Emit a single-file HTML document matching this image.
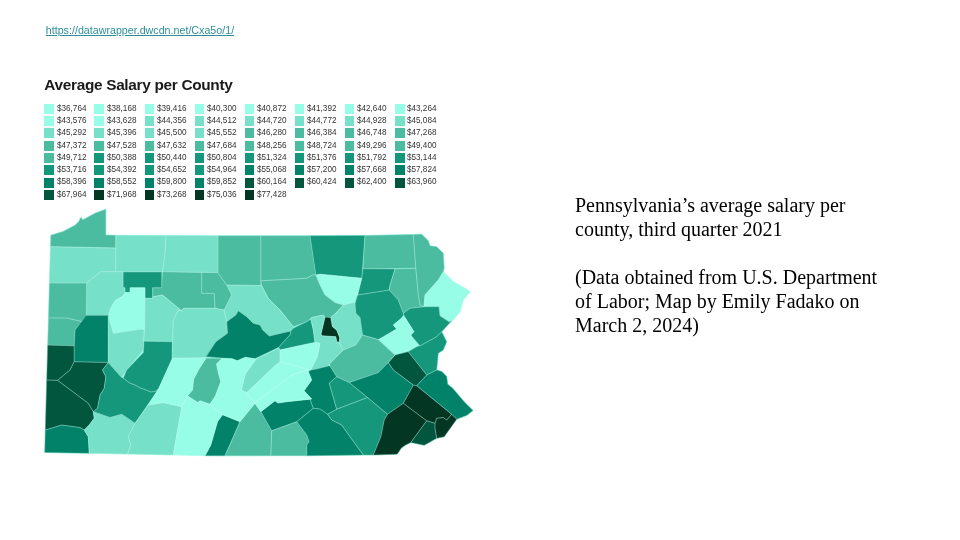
<!DOCTYPE html>
<html><head><meta charset="utf-8">
<style>
html,body{margin:0;padding:0;background:#fff;}
body{width:960px;height:540px;position:relative;overflow:hidden;font-family:"Liberation Sans",sans-serif;}
#link{position:absolute;left:45.8px;top:24.1px;font-size:10.7px;color:#2e8e98;text-decoration:underline;white-space:nowrap;line-height:12px;}
#title{position:absolute;left:44.3px;top:75.9px;font-size:15.4px;font-weight:bold;color:#1a1a1a;white-space:nowrap;line-height:18px;letter-spacing:-0.32px;}
#legend{position:absolute;left:0;top:0;}
.li{position:absolute;height:10px;font-size:9px;line-height:10px;color:#333;white-space:nowrap;}
.li i{position:absolute;left:0;top:0;width:9.5px;height:10px;display:block;}
.li span{position:absolute;left:12.4px;top:-1.2px;font-size:9.4px;transform:scaleX(0.87);transform-origin:0 0;}
#desc{position:absolute;left:575px;top:193px;width:330px;font-family:"Liberation Serif",serif;font-size:20px;line-height:24px;color:#000;}
#map{position:absolute;left:0;top:0;}
</style></head><body>
<div id="link">https://datawrapper.dwcdn.net/Cxa5o/1/</div>
<div id="title">Average Salary per County</div>
<div id="legend"><div class="li" style="left:44.3px;top:103.9px"><i style="background:#97fde7"></i><span>$36,764</span></div><div class="li" style="left:94.4px;top:103.9px"><i style="background:#97fde7"></i><span>$38,168</span></div><div class="li" style="left:144.5px;top:103.9px"><i style="background:#97fde7"></i><span>$39,416</span></div><div class="li" style="left:194.6px;top:103.9px"><i style="background:#97fde7"></i><span>$40,300</span></div><div class="li" style="left:244.7px;top:103.9px"><i style="background:#97fde7"></i><span>$40,872</span></div><div class="li" style="left:294.8px;top:103.9px"><i style="background:#97fde7"></i><span>$41,392</span></div><div class="li" style="left:344.9px;top:103.9px"><i style="background:#97fde7"></i><span>$42,640</span></div><div class="li" style="left:395.0px;top:103.9px"><i style="background:#97fde7"></i><span>$43,264</span></div><div class="li" style="left:44.3px;top:116.2px"><i style="background:#97fde7"></i><span>$43,576</span></div><div class="li" style="left:94.4px;top:116.2px"><i style="background:#97fde7"></i><span>$43,628</span></div><div class="li" style="left:144.5px;top:116.2px"><i style="background:#77e0c8"></i><span>$44,356</span></div><div class="li" style="left:194.6px;top:116.2px"><i style="background:#77e0c8"></i><span>$44,512</span></div><div class="li" style="left:244.7px;top:116.2px"><i style="background:#77e0c8"></i><span>$44,720</span></div><div class="li" style="left:294.8px;top:116.2px"><i style="background:#77e0c8"></i><span>$44,772</span></div><div class="li" style="left:344.9px;top:116.2px"><i style="background:#77e0c8"></i><span>$44,928</span></div><div class="li" style="left:395.0px;top:116.2px"><i style="background:#77e0c8"></i><span>$45,084</span></div><div class="li" style="left:44.3px;top:128.4px"><i style="background:#77e0c8"></i><span>$45,292</span></div><div class="li" style="left:94.4px;top:128.4px"><i style="background:#77e0c8"></i><span>$45,396</span></div><div class="li" style="left:144.5px;top:128.4px"><i style="background:#77e0c8"></i><span>$45,500</span></div><div class="li" style="left:194.6px;top:128.4px"><i style="background:#77e0c8"></i><span>$45,552</span></div><div class="li" style="left:244.7px;top:128.4px"><i style="background:#4bbca0"></i><span>$46,280</span></div><div class="li" style="left:294.8px;top:128.4px"><i style="background:#4bbca0"></i><span>$46,384</span></div><div class="li" style="left:344.9px;top:128.4px"><i style="background:#4bbca0"></i><span>$46,748</span></div><div class="li" style="left:395.0px;top:128.4px"><i style="background:#4bbca0"></i><span>$47,268</span></div><div class="li" style="left:44.3px;top:140.7px"><i style="background:#4bbca0"></i><span>$47,372</span></div><div class="li" style="left:94.4px;top:140.7px"><i style="background:#4bbca0"></i><span>$47,528</span></div><div class="li" style="left:144.5px;top:140.7px"><i style="background:#4bbca0"></i><span>$47,632</span></div><div class="li" style="left:194.6px;top:140.7px"><i style="background:#4bbca0"></i><span>$47,684</span></div><div class="li" style="left:244.7px;top:140.7px"><i style="background:#4bbca0"></i><span>$48,256</span></div><div class="li" style="left:294.8px;top:140.7px"><i style="background:#4bbca0"></i><span>$48,724</span></div><div class="li" style="left:344.9px;top:140.7px"><i style="background:#4bbca0"></i><span>$49,296</span></div><div class="li" style="left:395.0px;top:140.7px"><i style="background:#4bbca0"></i><span>$49,400</span></div><div class="li" style="left:44.3px;top:153.0px"><i style="background:#4bbca0"></i><span>$49,712</span></div><div class="li" style="left:94.4px;top:153.0px"><i style="background:#15977b"></i><span>$50,388</span></div><div class="li" style="left:144.5px;top:153.0px"><i style="background:#15977b"></i><span>$50,440</span></div><div class="li" style="left:194.6px;top:153.0px"><i style="background:#15977b"></i><span>$50,804</span></div><div class="li" style="left:244.7px;top:153.0px"><i style="background:#15977b"></i><span>$51,324</span></div><div class="li" style="left:294.8px;top:153.0px"><i style="background:#15977b"></i><span>$51,376</span></div><div class="li" style="left:344.9px;top:153.0px"><i style="background:#15977b"></i><span>$51,792</span></div><div class="li" style="left:395.0px;top:153.0px"><i style="background:#15977b"></i><span>$53,144</span></div><div class="li" style="left:44.3px;top:165.2px"><i style="background:#15977b"></i><span>$53,716</span></div><div class="li" style="left:94.4px;top:165.2px"><i style="background:#15977b"></i><span>$54,392</span></div><div class="li" style="left:144.5px;top:165.2px"><i style="background:#15977b"></i><span>$54,652</span></div><div class="li" style="left:194.6px;top:165.2px"><i style="background:#15977b"></i><span>$54,964</span></div><div class="li" style="left:244.7px;top:165.2px"><i style="background:#03826a"></i><span>$55,068</span></div><div class="li" style="left:294.8px;top:165.2px"><i style="background:#03826a"></i><span>$57,200</span></div><div class="li" style="left:344.9px;top:165.2px"><i style="background:#03826a"></i><span>$57,668</span></div><div class="li" style="left:395.0px;top:165.2px"><i style="background:#03826a"></i><span>$57,824</span></div><div class="li" style="left:44.3px;top:177.5px"><i style="background:#03826a"></i><span>$58,396</span></div><div class="li" style="left:94.4px;top:177.5px"><i style="background:#03826a"></i><span>$58,552</span></div><div class="li" style="left:144.5px;top:177.5px"><i style="background:#03826a"></i><span>$59,800</span></div><div class="li" style="left:194.6px;top:177.5px"><i style="background:#03826a"></i><span>$59,852</span></div><div class="li" style="left:244.7px;top:177.5px"><i style="background:#02563e"></i><span>$60,164</span></div><div class="li" style="left:294.8px;top:177.5px"><i style="background:#02563e"></i><span>$60,424</span></div><div class="li" style="left:344.9px;top:177.5px"><i style="background:#02563e"></i><span>$62,400</span></div><div class="li" style="left:395.0px;top:177.5px"><i style="background:#02563e"></i><span>$63,960</span></div><div class="li" style="left:44.3px;top:189.8px"><i style="background:#02563e"></i><span>$67,964</span></div><div class="li" style="left:94.4px;top:189.8px"><i style="background:#033724"></i><span>$71,968</span></div><div class="li" style="left:144.5px;top:189.8px"><i style="background:#033724"></i><span>$73,268</span></div><div class="li" style="left:194.6px;top:189.8px"><i style="background:#033724"></i><span>$75,036</span></div><div class="li" style="left:244.7px;top:189.8px"><i style="background:#033724"></i><span>$77,428</span></div></div>
<div id="desc">Pennsylvania’s average salary per<br>county, third quarter 2021<br><br>(Data obtained from U.S. Department<br>of Labor; Map by Emily Fadako on<br>March 2, 2024)</div>
<svg id="map" width="960" height="540" viewBox="0 0 960 540">
<polygon points="50.8,235.3 63.0,231.5 75.3,225.1 79.0,221.3 80.3,218.0 81.3,217.6 82.3,219.6 83.5,219.4 95.4,213.1 105.8,209.2 105.8,235.0 115.8,235.3 218.0,235.8 310.0,235.8 365.0,235.5 413.3,234.5 421.7,234.2 428.3,240.8 430.0,245.8 436.7,246.7 443.3,253.3 444.2,268.3 443.3,271.7 453.3,281.7 465.0,288.3 470.0,291.7 463.3,300.0 460.0,311.7 453.3,320.0 451.7,320.8 441.7,331.7 446.7,341.7 443.3,350.0 438.3,353.3 436.7,370.0 441.8,371.6 446.7,376.4 447.7,384.2 452.5,388.0 458.4,394.9 464.2,401.7 473.0,410.5 467.0,415.3 456.7,419.2 444.2,436.7 436.7,438.3 424.2,445.3 410.8,442.5 405.7,444.9 401.4,447.9 397.7,453.4 396.7,454.2 373.3,455.0 225.0,455.8 89.2,453.3 44.7,452.5" fill="#97fde7" stroke="#97fde7" stroke-width="0.6"/>
<polygon points="50.8,235.3 63.0,231.5 75.3,225.1 79.0,221.3 80.3,218.0 81.3,217.6 82.3,219.6 83.5,219.4 95.4,213.1 105.8,209.2 105.8,235.0 115.8,235.3 115.8,248.0 50.5,246.7" fill="#4bbca0" stroke="#4bbca0" stroke-width="0.25"/>
<polygon points="50.5,246.7 115.8,248.0 115.8,271.7 100.8,271.7 86.7,283.0 49.4,283.0" fill="#77e0c8" stroke="#77e0c8" stroke-width="0.25"/>
<polygon points="115.8,235.3 166.0,235.6 165.0,253.3 162.5,271.7 115.8,271.7" fill="#77e0c8" stroke="#77e0c8" stroke-width="0.25"/>
<polygon points="166.0,235.6 218.0,235.8 218.0,272.5 162.5,271.7 165.0,253.3" fill="#77e0c8" stroke="#77e0c8" stroke-width="0.25"/>
<polygon points="218.0,235.8 260.8,235.8 260.8,285.5 226.7,285.0 218.0,273.3" fill="#4bbca0" stroke="#4bbca0" stroke-width="0.25"/>
<polygon points="260.8,235.8 310.0,235.8 315.8,275.0 313.3,274.7 306.7,278.3 260.8,280.8" fill="#4bbca0" stroke="#4bbca0" stroke-width="0.25"/>
<polygon points="310.0,235.8 365.0,235.5 361.7,278.3 320.0,274.2 315.8,275.0" fill="#15977b" stroke="#15977b" stroke-width="0.25"/>
<polygon points="365.0,235.5 413.3,234.5 415.8,268.3 363.0,268.7" fill="#4bbca0" stroke="#4bbca0" stroke-width="0.25"/>
<polygon points="413.3,234.5 421.7,234.2 428.3,240.8 430.0,245.8 436.7,246.7 443.3,253.3 444.2,268.3 443.3,271.7 438.3,280.0 425.0,295.0 424.0,306.7 420.0,305.0 418.3,295.0 415.8,268.3" fill="#4bbca0" stroke="#4bbca0" stroke-width="0.25"/>
<polygon points="443.3,271.7 453.3,281.7 465.0,288.3 470.0,291.7 463.3,300.0 460.0,311.7 453.3,320.0 449.0,321.7 440.0,315.8 439.0,306.7 424.0,306.7 425.0,295.0 438.3,280.0" fill="#97fde7" stroke="#97fde7" stroke-width="0.25"/>
<polygon points="363.0,268.7 395.0,269.0 390.0,285.0 389.2,290.0 357.5,295.0 361.7,278.3" fill="#15977b" stroke="#15977b" stroke-width="0.25"/>
<polygon points="395.0,269.0 415.8,268.3 418.3,295.0 420.0,305.0 424.0,306.7 410.0,308.3 403.3,313.3 398.3,300.0 389.2,290.0 390.0,285.0" fill="#4bbca0" stroke="#4bbca0" stroke-width="0.25"/>
<polygon points="315.8,275.0 320.0,274.2 361.7,278.3 357.5,295.0 355.0,303.3 353.3,302.5 343.3,305.0 335.0,302.5 325.0,295.0 320.0,285.0" fill="#97fde7" stroke="#97fde7" stroke-width="0.25"/>
<polygon points="260.8,280.8 306.7,278.3 313.3,274.7 315.8,275.0 320.0,285.0 325.0,295.0 335.0,302.5 343.3,305.0 335.0,314.0 330.8,317.5 325.0,317.0 323.3,315.0 311.7,317.5 306.7,321.7 293.3,326.7 280.0,310.0 268.3,298.3 261.7,285.8" fill="#4bbca0" stroke="#4bbca0" stroke-width="0.25"/>
<polygon points="226.7,285.0 260.8,285.5 261.7,285.8 268.3,298.3 280.0,310.0 293.3,326.7 293.3,328.3 290.7,331.0 269.3,336.0 262.7,330.0 260.0,325.0 253.3,323.3 246.7,316.7 238.3,310.8 235.8,315.0 226.7,321.7 224.0,310.0 231.7,295.0" fill="#77e0c8" stroke="#77e0c8" stroke-width="0.25"/>
<polygon points="201.7,272.5 218.0,272.5 226.7,285.0 231.7,295.0 224.0,310.0 215.0,308.3 214.2,293.3 201.7,293.3" fill="#4bbca0" stroke="#4bbca0" stroke-width="0.25"/>
<polygon points="162.5,271.7 201.7,272.5 201.7,293.3 214.2,293.3 215.0,308.3 183.3,308.3 181.7,310.8 162.5,295.0 153.0,296.7 152.5,287.8 161.7,287.8" fill="#4bbca0" stroke="#4bbca0" stroke-width="0.25"/>
<polygon points="123.0,272.0 161.7,272.0 161.7,287.8 152.5,287.8 152.5,298.3 145.0,298.3 145.0,287.8 130.0,287.8 130.0,292.5 125.0,292.5 125.0,287.8 123.0,287.8" fill="#15977b" stroke="#15977b" stroke-width="0.25"/>
<polygon points="86.7,283.0 100.8,271.7 123.0,271.7 123.0,287.8 125.0,287.8 125.0,292.5 123.3,295.8 115.0,300.8 110.8,308.3 108.7,315.3 86.3,315.3" fill="#77e0c8" stroke="#77e0c8" stroke-width="0.25"/>
<polygon points="49.4,283.0 86.7,283.0 86.3,315.3 85.8,315.8 82.0,321.0 80.8,321.3 66.7,318.0 48.5,318.0" fill="#4bbca0" stroke="#4bbca0" stroke-width="0.25"/>
<polygon points="48.5,318.0 66.7,318.0 80.8,321.3 82.0,321.0 75.0,330.0 74.2,345.8 47.7,345.0" fill="#4bbca0" stroke="#4bbca0" stroke-width="0.25"/>
<polygon points="85.8,315.3 108.3,315.3 108.3,362.5 74.2,361.7 74.2,345.8 75.0,330.0" fill="#03826a" stroke="#03826a" stroke-width="0.25"/>
<polygon points="125.0,292.5 130.0,292.5 130.0,287.8 145.0,287.8 145.0,298.3 144.7,328.3 141.7,329.0 113.3,333.3 109.0,313.3 110.8,308.3 115.0,300.8 123.3,295.8" fill="#97fde7" stroke="#97fde7" stroke-width="0.25"/>
<polygon points="145.0,298.3 152.5,298.3 153.0,296.7 162.5,295.0 181.7,310.8 178.3,310.0 173.3,320.0 172.5,341.7 143.8,340.8 144.7,328.3" fill="#77e0c8" stroke="#77e0c8" stroke-width="0.25"/>
<polygon points="108.3,316.0 113.3,333.3 141.7,329.0 144.0,330.0 143.3,350.0 126.7,370.0 121.7,377.5 116.7,372.0 108.3,362.5" fill="#77e0c8" stroke="#77e0c8" stroke-width="0.25"/>
<polygon points="144.0,341.2 172.2,341.7 172.2,358.8 158.5,389.0 155.0,391.5 150.8,392.0 145.0,389.5 140.4,388.0 135.0,385.0 130.0,383.2 123.3,378.3 126.7,370.0 143.5,352.5" fill="#15977b" stroke="#15977b" stroke-width="0.25"/>
<polygon points="178.3,310.0 181.7,310.8 183.3,308.3 215.0,308.3 224.0,310.0 226.7,321.7 227.5,333.3 215.8,341.7 205.8,357.5 172.2,358.2 172.5,341.7 173.3,320.0" fill="#77e0c8" stroke="#77e0c8" stroke-width="0.25"/>
<polygon points="238.3,310.8 246.7,316.7 253.3,323.3 260.0,325.0 262.7,330.0 269.3,336.0 290.7,331.0 290.7,334.0 278.7,347.3 254.7,358.7 245.3,357.3 237.3,360.7 232.0,358.7 205.8,356.7 215.8,341.7 227.5,333.3 226.7,321.7 235.8,315.0" fill="#03826a" stroke="#03826a" stroke-width="0.25"/>
<polygon points="293.3,328.3 306.7,321.7 310.8,319.2 313.3,330.0 315.0,342.5 304.0,344.7 280.0,350.0 278.7,347.3 290.7,334.0 290.7,331.0" fill="#15977b" stroke="#15977b" stroke-width="0.25"/>
<polygon points="325.0,317.0 330.8,317.5 332.5,326.7 336.7,330.0 339.7,337.5 339.2,342.5 336.7,341.7 335.8,336.7 321.7,335.8 321.0,334.0" fill="#033724" stroke="#033724" stroke-width="0.25"/>
<polygon points="343.3,305.0 353.3,302.5 355.0,303.3 355.8,313.3 360.0,317.5 362.5,335.0 355.8,345.0 343.3,350.0 340.8,346.7 339.2,342.5 339.7,337.5 336.7,330.0 332.5,326.7 330.8,317.5 335.0,314.0" fill="#77e0c8" stroke="#77e0c8" stroke-width="0.25"/>
<polygon points="357.5,295.0 389.2,290.0 398.3,300.0 403.3,313.3 403.3,315.8 401.7,318.0 393.3,325.0 396.7,329.0 378.3,339.5 368.3,336.7 362.5,335.0 360.0,317.5 355.8,313.3 355.0,303.3" fill="#15977b" stroke="#15977b" stroke-width="0.25"/>
<polygon points="410.0,308.3 424.0,306.7 439.0,306.7 440.0,315.8 449.0,321.7 451.7,320.8 441.7,331.7 436.7,336.7 420.0,345.8 410.8,335.0 414.0,331.7 405.0,317.5 403.3,313.3" fill="#15977b" stroke="#15977b" stroke-width="0.25"/>
<polygon points="401.7,318.0 403.3,315.8 405.0,317.5 414.0,331.7 410.8,335.0 416.7,346.7 395.0,355.0 378.3,340.0 396.7,329.0 393.3,325.0" fill="#97fde7" stroke="#97fde7" stroke-width="0.25"/>
<polygon points="420.0,345.8 436.7,336.7 441.7,331.7 446.7,341.7 443.3,350.0 438.3,353.3 436.7,370.0 426.7,375.0 408.3,351.7 416.7,346.7" fill="#15977b" stroke="#15977b" stroke-width="0.25"/>
<polygon points="395.0,355.0 408.3,351.7 426.7,375.0 416.7,385.8 413.3,385.0 393.3,370.0 388.3,362.5" fill="#02563e" stroke="#02563e" stroke-width="0.25"/>
<polygon points="343.3,350.0 355.8,345.0 362.5,335.0 368.3,336.7 378.3,339.5 395.0,355.0 388.3,362.5 378.3,372.5 349.2,382.5 336.7,376.7 330.0,366.0 330.0,363.3" fill="#4bbca0" stroke="#4bbca0" stroke-width="0.25"/>
<polygon points="310.8,319.2 311.7,317.5 323.3,315.0 325.0,317.0 321.0,334.0 321.7,335.8 335.8,336.7 336.7,341.7 339.2,342.5 340.8,346.7 343.3,350.0 330.0,363.3 328.0,366.0 317.3,368.7 310.7,370.0 317.3,356.7 320.0,343.3 315.0,342.5 313.3,330.0" fill="#77e0c8" stroke="#77e0c8" stroke-width="0.25"/>
<polygon points="278.7,348.0 280.0,350.0 280.0,362.0 274.7,366.0 246.7,392.7 241.3,390.0 245.3,374.0 256.0,359.3" fill="#77e0c8" stroke="#77e0c8" stroke-width="0.25"/>
<polygon points="206.0,358.2 222.0,358.5 216.5,364.0 218.5,373.3 220.8,381.7 215.4,396.0 210.0,404.2 200.0,400.8 197.5,402.5 187.5,395.8 192.5,390.0 193.5,379.6 198.8,369.2" fill="#4bbca0" stroke="#4bbca0" stroke-width="0.25"/>
<polygon points="47.7,345.0 74.2,345.8 74.2,361.7 70.0,370.0 57.5,380.3 46.7,380.0" fill="#02563e" stroke="#02563e" stroke-width="0.25"/>
<polygon points="74.2,361.7 108.3,362.5 102.5,370.0 105.8,376.7 104.2,388.3 100.0,395.0 97.5,408.3 93.3,411.7 88.3,403.3 57.5,380.3 70.0,370.0" fill="#02563e" stroke="#02563e" stroke-width="0.25"/>
<polygon points="46.7,380.0 57.5,380.3 88.3,403.3 93.3,411.7 94.2,418.3 89.2,425.0 84.2,430.0 80.0,427.5 61.7,425.0 45.3,430.0" fill="#02563e" stroke="#02563e" stroke-width="0.25"/>
<polygon points="45.3,430.0 61.7,425.0 80.0,427.5 84.2,430.0 88.3,436.7 89.2,453.3 44.7,452.5" fill="#03826a" stroke="#03826a" stroke-width="0.25"/>
<polygon points="93.3,411.7 110.0,417.5 121.7,414.2 135.0,423.3 128.3,436.7 130.8,445.0 127.5,454.0 89.2,453.3 88.3,436.7 84.2,430.0 89.2,425.0 94.2,418.3" fill="#77e0c8" stroke="#77e0c8" stroke-width="0.25"/>
<polygon points="108.3,362.5 116.7,372.0 121.7,377.5 123.3,378.3 130.0,383.2 135.0,385.0 140.4,388.0 145.0,389.5 150.8,392.0 155.0,391.5 158.5,389.0 135.0,423.3 121.7,414.2 110.0,417.5 93.3,411.7 97.5,408.3 100.0,395.0 104.2,388.3 105.8,376.7 102.5,370.0" fill="#15977b" stroke="#15977b" stroke-width="0.25"/>
<polygon points="135.0,423.3 148.3,405.0 163.3,402.5 181.7,406.7 173.3,455.0 127.5,454.0 130.8,445.0 128.3,436.7" fill="#77e0c8" stroke="#77e0c8" stroke-width="0.25"/>
<polygon points="222.5,414.7 240.0,421.7 225.0,455.8 205.0,455.8 210.8,445.0 217.5,421.7" fill="#03826a" stroke="#03826a" stroke-width="0.25"/>
<polygon points="255.0,403.3 260.8,411.7 271.7,430.8 270.8,455.8 225.0,455.8 240.0,421.7" fill="#4bbca0" stroke="#4bbca0" stroke-width="0.25"/>
<polygon points="260.8,411.7 275.0,400.8 278.0,403.0 286.7,401.7 310.0,399.2 313.3,408.3 296.7,421.7 271.7,430.8" fill="#03826a" stroke="#03826a" stroke-width="0.25"/>
<polygon points="271.7,430.8 296.7,421.7 306.7,435.0 309.0,441.7 306.7,445.0 306.7,455.8 270.8,455.8" fill="#4bbca0" stroke="#4bbca0" stroke-width="0.25"/>
<polygon points="296.7,421.7 313.3,408.3 320.0,409.0 327.5,414.2 331.7,420.0 341.7,425.0 350.0,436.7 363.3,455.0 306.7,455.8 306.7,445.0 309.0,441.7 306.7,435.0" fill="#03826a" stroke="#03826a" stroke-width="0.25"/>
<polygon points="328.0,366.0 330.0,366.0 336.7,376.7 329.2,383.3 336.7,409.2 327.5,414.2 320.0,409.0 313.3,408.3 310.0,399.2 311.7,399.0 304.0,390.8 311.7,380.0 308.3,371.7 310.7,370.0 317.3,368.7" fill="#03826a" stroke="#03826a" stroke-width="0.25"/>
<polygon points="336.7,376.7 349.2,382.5 367.5,397.5 336.7,409.2 329.2,383.3" fill="#15977b" stroke="#15977b" stroke-width="0.25"/>
<polygon points="349.2,382.5 378.3,372.5 388.3,362.5 393.3,370.0 413.3,385.0 403.3,403.3 387.5,414.2 367.5,397.5" fill="#03826a" stroke="#03826a" stroke-width="0.25"/>
<polygon points="367.5,397.5 387.5,414.2 384.2,420.0 380.8,436.7 373.3,455.0 363.3,455.0 350.0,436.7 341.7,425.0 331.7,420.0 327.5,414.2 336.7,409.2" fill="#15977b" stroke="#15977b" stroke-width="0.25"/>
<polygon points="403.3,403.3 426.7,420.8 410.8,442.5 405.7,444.9 401.4,447.9 397.7,453.4 396.7,454.2 373.3,455.0 380.8,436.7 384.2,420.0 387.5,414.2" fill="#033724" stroke="#033724" stroke-width="0.25"/>
<polygon points="413.3,385.0 416.7,385.8 451.7,414.2 446.7,420.0 443.3,417.5 436.7,418.3 435.0,423.3 426.7,420.8 403.3,403.3" fill="#033724" stroke="#033724" stroke-width="0.25"/>
<polygon points="426.7,375.0 436.7,370.0 441.8,371.6 446.7,376.4 447.7,384.2 452.5,388.0 458.4,394.9 464.2,401.7 473.0,410.5 467.0,415.3 456.7,419.2 451.7,414.2 416.7,385.8" fill="#03826a" stroke="#03826a" stroke-width="0.25"/>
<polygon points="451.7,414.2 456.7,419.2 444.2,436.7 436.7,438.3 435.0,428.3 435.0,423.3 436.7,418.3 443.3,417.5 446.7,420.0" fill="#033724" stroke="#033724" stroke-width="0.25"/>
<polygon points="426.7,420.8 435.0,423.3 435.0,428.3 436.7,438.3 424.2,445.3 410.8,442.5" fill="#02563e" stroke="#02563e" stroke-width="0.25"/>
<polygon points="172.2,358.2 206.0,358.2 198.8,369.2 193.5,379.6 192.5,390.0 187.5,395.8 181.7,406.7 163.3,402.5 148.3,405.0 158.5,389.0 172.2,358.8" fill="#97fde7" stroke="#97fde7" stroke-width="0.25"/>
<polygon points="181.7,406.7 187.5,395.8 197.5,402.5 200.0,400.8 210.0,404.2 222.5,414.7 217.5,421.7 210.8,445.0 205.0,455.8 173.3,455.0" fill="#97fde7" stroke="#97fde7" stroke-width="0.25"/>
<polygon points="222.0,358.5 232.0,358.7 237.3,360.7 245.3,357.3 254.7,358.7 256.0,359.3 245.3,374.0 241.3,390.0 246.7,392.7 255.0,403.3 240.0,421.7 222.5,414.7 210.0,404.2 215.4,396.0 220.8,381.7 218.5,373.3 216.5,364.0" fill="#97fde7" stroke="#97fde7" stroke-width="0.25"/>
<polygon points="280.0,362.0 290.0,364.0 308.0,369.6 292.0,375.0 256.0,402.0 255.0,403.3 246.7,392.7 274.7,366.0" fill="#97fde7" stroke="#97fde7" stroke-width="0.25"/>
<polygon points="308.0,369.6 308.3,371.7 311.7,380.0 304.0,390.8 311.7,399.0 310.0,399.2 286.7,401.7 278.0,403.0 275.0,400.8 260.8,411.7 255.0,403.3 256.0,402.0 292.0,375.0" fill="#97fde7" stroke="#97fde7" stroke-width="0.25"/>
<polygon points="280.0,350.0 304.0,344.7 315.0,342.5 320.0,343.3 317.3,356.7 310.7,370.0 308.0,369.6 290.0,364.0 280.0,362.0" fill="#97fde7" stroke="#97fde7" stroke-width="0.25"/>
<polygon points="50.8,235.3 63.0,231.5 75.3,225.1 79.0,221.3 80.3,218.0 81.3,217.6 82.3,219.6 83.5,219.4 95.4,213.1 105.8,209.2 105.8,235.0 115.8,235.3 115.8,248.0 50.5,246.7" fill="none" stroke="#d8fff6" stroke-opacity="0.28" stroke-width="0.8" stroke-linejoin="round"/>
<polygon points="50.5,246.7 115.8,248.0 115.8,271.7 100.8,271.7 86.7,283.0 49.4,283.0" fill="none" stroke="#d8fff6" stroke-opacity="0.28" stroke-width="0.8" stroke-linejoin="round"/>
<polygon points="115.8,235.3 166.0,235.6 165.0,253.3 162.5,271.7 115.8,271.7" fill="none" stroke="#d8fff6" stroke-opacity="0.28" stroke-width="0.8" stroke-linejoin="round"/>
<polygon points="166.0,235.6 218.0,235.8 218.0,272.5 162.5,271.7 165.0,253.3" fill="none" stroke="#d8fff6" stroke-opacity="0.28" stroke-width="0.8" stroke-linejoin="round"/>
<polygon points="218.0,235.8 260.8,235.8 260.8,285.5 226.7,285.0 218.0,273.3" fill="none" stroke="#d8fff6" stroke-opacity="0.28" stroke-width="0.8" stroke-linejoin="round"/>
<polygon points="260.8,235.8 310.0,235.8 315.8,275.0 313.3,274.7 306.7,278.3 260.8,280.8" fill="none" stroke="#d8fff6" stroke-opacity="0.28" stroke-width="0.8" stroke-linejoin="round"/>
<polygon points="310.0,235.8 365.0,235.5 361.7,278.3 320.0,274.2 315.8,275.0" fill="none" stroke="#d8fff6" stroke-opacity="0.28" stroke-width="0.8" stroke-linejoin="round"/>
<polygon points="365.0,235.5 413.3,234.5 415.8,268.3 363.0,268.7" fill="none" stroke="#d8fff6" stroke-opacity="0.28" stroke-width="0.8" stroke-linejoin="round"/>
<polygon points="413.3,234.5 421.7,234.2 428.3,240.8 430.0,245.8 436.7,246.7 443.3,253.3 444.2,268.3 443.3,271.7 438.3,280.0 425.0,295.0 424.0,306.7 420.0,305.0 418.3,295.0 415.8,268.3" fill="none" stroke="#d8fff6" stroke-opacity="0.28" stroke-width="0.8" stroke-linejoin="round"/>
<polygon points="443.3,271.7 453.3,281.7 465.0,288.3 470.0,291.7 463.3,300.0 460.0,311.7 453.3,320.0 449.0,321.7 440.0,315.8 439.0,306.7 424.0,306.7 425.0,295.0 438.3,280.0" fill="none" stroke="#d8fff6" stroke-opacity="0.28" stroke-width="0.8" stroke-linejoin="round"/>
<polygon points="363.0,268.7 395.0,269.0 390.0,285.0 389.2,290.0 357.5,295.0 361.7,278.3" fill="none" stroke="#d8fff6" stroke-opacity="0.28" stroke-width="0.8" stroke-linejoin="round"/>
<polygon points="395.0,269.0 415.8,268.3 418.3,295.0 420.0,305.0 424.0,306.7 410.0,308.3 403.3,313.3 398.3,300.0 389.2,290.0 390.0,285.0" fill="none" stroke="#d8fff6" stroke-opacity="0.28" stroke-width="0.8" stroke-linejoin="round"/>
<polygon points="315.8,275.0 320.0,274.2 361.7,278.3 357.5,295.0 355.0,303.3 353.3,302.5 343.3,305.0 335.0,302.5 325.0,295.0 320.0,285.0" fill="none" stroke="#d8fff6" stroke-opacity="0.28" stroke-width="0.8" stroke-linejoin="round"/>
<polygon points="260.8,280.8 306.7,278.3 313.3,274.7 315.8,275.0 320.0,285.0 325.0,295.0 335.0,302.5 343.3,305.0 335.0,314.0 330.8,317.5 325.0,317.0 323.3,315.0 311.7,317.5 306.7,321.7 293.3,326.7 280.0,310.0 268.3,298.3 261.7,285.8" fill="none" stroke="#d8fff6" stroke-opacity="0.28" stroke-width="0.8" stroke-linejoin="round"/>
<polygon points="226.7,285.0 260.8,285.5 261.7,285.8 268.3,298.3 280.0,310.0 293.3,326.7 293.3,328.3 290.7,331.0 269.3,336.0 262.7,330.0 260.0,325.0 253.3,323.3 246.7,316.7 238.3,310.8 235.8,315.0 226.7,321.7 224.0,310.0 231.7,295.0" fill="none" stroke="#d8fff6" stroke-opacity="0.28" stroke-width="0.8" stroke-linejoin="round"/>
<polygon points="201.7,272.5 218.0,272.5 226.7,285.0 231.7,295.0 224.0,310.0 215.0,308.3 214.2,293.3 201.7,293.3" fill="none" stroke="#d8fff6" stroke-opacity="0.28" stroke-width="0.8" stroke-linejoin="round"/>
<polygon points="162.5,271.7 201.7,272.5 201.7,293.3 214.2,293.3 215.0,308.3 183.3,308.3 181.7,310.8 162.5,295.0 153.0,296.7 152.5,287.8 161.7,287.8" fill="none" stroke="#d8fff6" stroke-opacity="0.28" stroke-width="0.8" stroke-linejoin="round"/>
<polygon points="123.0,272.0 161.7,272.0 161.7,287.8 152.5,287.8 152.5,298.3 145.0,298.3 145.0,287.8 130.0,287.8 130.0,292.5 125.0,292.5 125.0,287.8 123.0,287.8" fill="none" stroke="#d8fff6" stroke-opacity="0.28" stroke-width="0.8" stroke-linejoin="round"/>
<polygon points="86.7,283.0 100.8,271.7 123.0,271.7 123.0,287.8 125.0,287.8 125.0,292.5 123.3,295.8 115.0,300.8 110.8,308.3 108.7,315.3 86.3,315.3" fill="none" stroke="#d8fff6" stroke-opacity="0.28" stroke-width="0.8" stroke-linejoin="round"/>
<polygon points="49.4,283.0 86.7,283.0 86.3,315.3 85.8,315.8 82.0,321.0 80.8,321.3 66.7,318.0 48.5,318.0" fill="none" stroke="#d8fff6" stroke-opacity="0.28" stroke-width="0.8" stroke-linejoin="round"/>
<polygon points="48.5,318.0 66.7,318.0 80.8,321.3 82.0,321.0 75.0,330.0 74.2,345.8 47.7,345.0" fill="none" stroke="#d8fff6" stroke-opacity="0.28" stroke-width="0.8" stroke-linejoin="round"/>
<polygon points="85.8,315.3 108.3,315.3 108.3,362.5 74.2,361.7 74.2,345.8 75.0,330.0" fill="none" stroke="#d8fff6" stroke-opacity="0.28" stroke-width="0.8" stroke-linejoin="round"/>
<polygon points="125.0,292.5 130.0,292.5 130.0,287.8 145.0,287.8 145.0,298.3 144.7,328.3 141.7,329.0 113.3,333.3 109.0,313.3 110.8,308.3 115.0,300.8 123.3,295.8" fill="none" stroke="#d8fff6" stroke-opacity="0.28" stroke-width="0.8" stroke-linejoin="round"/>
<polygon points="145.0,298.3 152.5,298.3 153.0,296.7 162.5,295.0 181.7,310.8 178.3,310.0 173.3,320.0 172.5,341.7 143.8,340.8 144.7,328.3" fill="none" stroke="#d8fff6" stroke-opacity="0.28" stroke-width="0.8" stroke-linejoin="round"/>
<polygon points="108.3,316.0 113.3,333.3 141.7,329.0 144.0,330.0 143.3,350.0 126.7,370.0 121.7,377.5 116.7,372.0 108.3,362.5" fill="none" stroke="#d8fff6" stroke-opacity="0.28" stroke-width="0.8" stroke-linejoin="round"/>
<polygon points="144.0,341.2 172.2,341.7 172.2,358.8 158.5,389.0 155.0,391.5 150.8,392.0 145.0,389.5 140.4,388.0 135.0,385.0 130.0,383.2 123.3,378.3 126.7,370.0 143.5,352.5" fill="none" stroke="#d8fff6" stroke-opacity="0.28" stroke-width="0.8" stroke-linejoin="round"/>
<polygon points="178.3,310.0 181.7,310.8 183.3,308.3 215.0,308.3 224.0,310.0 226.7,321.7 227.5,333.3 215.8,341.7 205.8,357.5 172.2,358.2 172.5,341.7 173.3,320.0" fill="none" stroke="#d8fff6" stroke-opacity="0.28" stroke-width="0.8" stroke-linejoin="round"/>
<polygon points="238.3,310.8 246.7,316.7 253.3,323.3 260.0,325.0 262.7,330.0 269.3,336.0 290.7,331.0 290.7,334.0 278.7,347.3 254.7,358.7 245.3,357.3 237.3,360.7 232.0,358.7 205.8,356.7 215.8,341.7 227.5,333.3 226.7,321.7 235.8,315.0" fill="none" stroke="#d8fff6" stroke-opacity="0.28" stroke-width="0.8" stroke-linejoin="round"/>
<polygon points="293.3,328.3 306.7,321.7 310.8,319.2 313.3,330.0 315.0,342.5 304.0,344.7 280.0,350.0 278.7,347.3 290.7,334.0 290.7,331.0" fill="none" stroke="#d8fff6" stroke-opacity="0.28" stroke-width="0.8" stroke-linejoin="round"/>
<polygon points="325.0,317.0 330.8,317.5 332.5,326.7 336.7,330.0 339.7,337.5 339.2,342.5 336.7,341.7 335.8,336.7 321.7,335.8 321.0,334.0" fill="none" stroke="#d8fff6" stroke-opacity="0.28" stroke-width="0.8" stroke-linejoin="round"/>
<polygon points="343.3,305.0 353.3,302.5 355.0,303.3 355.8,313.3 360.0,317.5 362.5,335.0 355.8,345.0 343.3,350.0 340.8,346.7 339.2,342.5 339.7,337.5 336.7,330.0 332.5,326.7 330.8,317.5 335.0,314.0" fill="none" stroke="#d8fff6" stroke-opacity="0.28" stroke-width="0.8" stroke-linejoin="round"/>
<polygon points="357.5,295.0 389.2,290.0 398.3,300.0 403.3,313.3 403.3,315.8 401.7,318.0 393.3,325.0 396.7,329.0 378.3,339.5 368.3,336.7 362.5,335.0 360.0,317.5 355.8,313.3 355.0,303.3" fill="none" stroke="#d8fff6" stroke-opacity="0.28" stroke-width="0.8" stroke-linejoin="round"/>
<polygon points="410.0,308.3 424.0,306.7 439.0,306.7 440.0,315.8 449.0,321.7 451.7,320.8 441.7,331.7 436.7,336.7 420.0,345.8 410.8,335.0 414.0,331.7 405.0,317.5 403.3,313.3" fill="none" stroke="#d8fff6" stroke-opacity="0.28" stroke-width="0.8" stroke-linejoin="round"/>
<polygon points="401.7,318.0 403.3,315.8 405.0,317.5 414.0,331.7 410.8,335.0 416.7,346.7 395.0,355.0 378.3,340.0 396.7,329.0 393.3,325.0" fill="none" stroke="#d8fff6" stroke-opacity="0.28" stroke-width="0.8" stroke-linejoin="round"/>
<polygon points="420.0,345.8 436.7,336.7 441.7,331.7 446.7,341.7 443.3,350.0 438.3,353.3 436.7,370.0 426.7,375.0 408.3,351.7 416.7,346.7" fill="none" stroke="#d8fff6" stroke-opacity="0.28" stroke-width="0.8" stroke-linejoin="round"/>
<polygon points="395.0,355.0 408.3,351.7 426.7,375.0 416.7,385.8 413.3,385.0 393.3,370.0 388.3,362.5" fill="none" stroke="#d8fff6" stroke-opacity="0.28" stroke-width="0.8" stroke-linejoin="round"/>
<polygon points="343.3,350.0 355.8,345.0 362.5,335.0 368.3,336.7 378.3,339.5 395.0,355.0 388.3,362.5 378.3,372.5 349.2,382.5 336.7,376.7 330.0,366.0 330.0,363.3" fill="none" stroke="#d8fff6" stroke-opacity="0.28" stroke-width="0.8" stroke-linejoin="round"/>
<polygon points="310.8,319.2 311.7,317.5 323.3,315.0 325.0,317.0 321.0,334.0 321.7,335.8 335.8,336.7 336.7,341.7 339.2,342.5 340.8,346.7 343.3,350.0 330.0,363.3 328.0,366.0 317.3,368.7 310.7,370.0 317.3,356.7 320.0,343.3 315.0,342.5 313.3,330.0" fill="none" stroke="#d8fff6" stroke-opacity="0.28" stroke-width="0.8" stroke-linejoin="round"/>
<polygon points="278.7,348.0 280.0,350.0 280.0,362.0 274.7,366.0 246.7,392.7 241.3,390.0 245.3,374.0 256.0,359.3" fill="none" stroke="#d8fff6" stroke-opacity="0.28" stroke-width="0.8" stroke-linejoin="round"/>
<polygon points="206.0,358.2 222.0,358.5 216.5,364.0 218.5,373.3 220.8,381.7 215.4,396.0 210.0,404.2 200.0,400.8 197.5,402.5 187.5,395.8 192.5,390.0 193.5,379.6 198.8,369.2" fill="none" stroke="#d8fff6" stroke-opacity="0.28" stroke-width="0.8" stroke-linejoin="round"/>
<polygon points="47.7,345.0 74.2,345.8 74.2,361.7 70.0,370.0 57.5,380.3 46.7,380.0" fill="none" stroke="#d8fff6" stroke-opacity="0.28" stroke-width="0.8" stroke-linejoin="round"/>
<polygon points="74.2,361.7 108.3,362.5 102.5,370.0 105.8,376.7 104.2,388.3 100.0,395.0 97.5,408.3 93.3,411.7 88.3,403.3 57.5,380.3 70.0,370.0" fill="none" stroke="#d8fff6" stroke-opacity="0.28" stroke-width="0.8" stroke-linejoin="round"/>
<polygon points="46.7,380.0 57.5,380.3 88.3,403.3 93.3,411.7 94.2,418.3 89.2,425.0 84.2,430.0 80.0,427.5 61.7,425.0 45.3,430.0" fill="none" stroke="#d8fff6" stroke-opacity="0.28" stroke-width="0.8" stroke-linejoin="round"/>
<polygon points="45.3,430.0 61.7,425.0 80.0,427.5 84.2,430.0 88.3,436.7 89.2,453.3 44.7,452.5" fill="none" stroke="#d8fff6" stroke-opacity="0.28" stroke-width="0.8" stroke-linejoin="round"/>
<polygon points="93.3,411.7 110.0,417.5 121.7,414.2 135.0,423.3 128.3,436.7 130.8,445.0 127.5,454.0 89.2,453.3 88.3,436.7 84.2,430.0 89.2,425.0 94.2,418.3" fill="none" stroke="#d8fff6" stroke-opacity="0.28" stroke-width="0.8" stroke-linejoin="round"/>
<polygon points="108.3,362.5 116.7,372.0 121.7,377.5 123.3,378.3 130.0,383.2 135.0,385.0 140.4,388.0 145.0,389.5 150.8,392.0 155.0,391.5 158.5,389.0 135.0,423.3 121.7,414.2 110.0,417.5 93.3,411.7 97.5,408.3 100.0,395.0 104.2,388.3 105.8,376.7 102.5,370.0" fill="none" stroke="#d8fff6" stroke-opacity="0.28" stroke-width="0.8" stroke-linejoin="round"/>
<polygon points="135.0,423.3 148.3,405.0 163.3,402.5 181.7,406.7 173.3,455.0 127.5,454.0 130.8,445.0 128.3,436.7" fill="none" stroke="#d8fff6" stroke-opacity="0.28" stroke-width="0.8" stroke-linejoin="round"/>
<polygon points="222.5,414.7 240.0,421.7 225.0,455.8 205.0,455.8 210.8,445.0 217.5,421.7" fill="none" stroke="#d8fff6" stroke-opacity="0.28" stroke-width="0.8" stroke-linejoin="round"/>
<polygon points="255.0,403.3 260.8,411.7 271.7,430.8 270.8,455.8 225.0,455.8 240.0,421.7" fill="none" stroke="#d8fff6" stroke-opacity="0.28" stroke-width="0.8" stroke-linejoin="round"/>
<polygon points="260.8,411.7 275.0,400.8 278.0,403.0 286.7,401.7 310.0,399.2 313.3,408.3 296.7,421.7 271.7,430.8" fill="none" stroke="#d8fff6" stroke-opacity="0.28" stroke-width="0.8" stroke-linejoin="round"/>
<polygon points="271.7,430.8 296.7,421.7 306.7,435.0 309.0,441.7 306.7,445.0 306.7,455.8 270.8,455.8" fill="none" stroke="#d8fff6" stroke-opacity="0.28" stroke-width="0.8" stroke-linejoin="round"/>
<polygon points="296.7,421.7 313.3,408.3 320.0,409.0 327.5,414.2 331.7,420.0 341.7,425.0 350.0,436.7 363.3,455.0 306.7,455.8 306.7,445.0 309.0,441.7 306.7,435.0" fill="none" stroke="#d8fff6" stroke-opacity="0.28" stroke-width="0.8" stroke-linejoin="round"/>
<polygon points="328.0,366.0 330.0,366.0 336.7,376.7 329.2,383.3 336.7,409.2 327.5,414.2 320.0,409.0 313.3,408.3 310.0,399.2 311.7,399.0 304.0,390.8 311.7,380.0 308.3,371.7 310.7,370.0 317.3,368.7" fill="none" stroke="#d8fff6" stroke-opacity="0.28" stroke-width="0.8" stroke-linejoin="round"/>
<polygon points="336.7,376.7 349.2,382.5 367.5,397.5 336.7,409.2 329.2,383.3" fill="none" stroke="#d8fff6" stroke-opacity="0.28" stroke-width="0.8" stroke-linejoin="round"/>
<polygon points="349.2,382.5 378.3,372.5 388.3,362.5 393.3,370.0 413.3,385.0 403.3,403.3 387.5,414.2 367.5,397.5" fill="none" stroke="#d8fff6" stroke-opacity="0.28" stroke-width="0.8" stroke-linejoin="round"/>
<polygon points="367.5,397.5 387.5,414.2 384.2,420.0 380.8,436.7 373.3,455.0 363.3,455.0 350.0,436.7 341.7,425.0 331.7,420.0 327.5,414.2 336.7,409.2" fill="none" stroke="#d8fff6" stroke-opacity="0.28" stroke-width="0.8" stroke-linejoin="round"/>
<polygon points="403.3,403.3 426.7,420.8 410.8,442.5 405.7,444.9 401.4,447.9 397.7,453.4 396.7,454.2 373.3,455.0 380.8,436.7 384.2,420.0 387.5,414.2" fill="none" stroke="#d8fff6" stroke-opacity="0.28" stroke-width="0.8" stroke-linejoin="round"/>
<polygon points="413.3,385.0 416.7,385.8 451.7,414.2 446.7,420.0 443.3,417.5 436.7,418.3 435.0,423.3 426.7,420.8 403.3,403.3" fill="none" stroke="#d8fff6" stroke-opacity="0.28" stroke-width="0.8" stroke-linejoin="round"/>
<polygon points="426.7,375.0 436.7,370.0 441.8,371.6 446.7,376.4 447.7,384.2 452.5,388.0 458.4,394.9 464.2,401.7 473.0,410.5 467.0,415.3 456.7,419.2 451.7,414.2 416.7,385.8" fill="none" stroke="#d8fff6" stroke-opacity="0.28" stroke-width="0.8" stroke-linejoin="round"/>
<polygon points="451.7,414.2 456.7,419.2 444.2,436.7 436.7,438.3 435.0,428.3 435.0,423.3 436.7,418.3 443.3,417.5 446.7,420.0" fill="none" stroke="#d8fff6" stroke-opacity="0.28" stroke-width="0.8" stroke-linejoin="round"/>
<polygon points="426.7,420.8 435.0,423.3 435.0,428.3 436.7,438.3 424.2,445.3 410.8,442.5" fill="none" stroke="#d8fff6" stroke-opacity="0.28" stroke-width="0.8" stroke-linejoin="round"/>
<polygon points="172.2,358.2 206.0,358.2 198.8,369.2 193.5,379.6 192.5,390.0 187.5,395.8 181.7,406.7 163.3,402.5 148.3,405.0 158.5,389.0 172.2,358.8" fill="none" stroke="#d8fff6" stroke-opacity="0.28" stroke-width="0.8" stroke-linejoin="round"/>
<polygon points="181.7,406.7 187.5,395.8 197.5,402.5 200.0,400.8 210.0,404.2 222.5,414.7 217.5,421.7 210.8,445.0 205.0,455.8 173.3,455.0" fill="none" stroke="#d8fff6" stroke-opacity="0.28" stroke-width="0.8" stroke-linejoin="round"/>
<polygon points="222.0,358.5 232.0,358.7 237.3,360.7 245.3,357.3 254.7,358.7 256.0,359.3 245.3,374.0 241.3,390.0 246.7,392.7 255.0,403.3 240.0,421.7 222.5,414.7 210.0,404.2 215.4,396.0 220.8,381.7 218.5,373.3 216.5,364.0" fill="none" stroke="#d8fff6" stroke-opacity="0.28" stroke-width="0.8" stroke-linejoin="round"/>
<polygon points="280.0,362.0 290.0,364.0 308.0,369.6 292.0,375.0 256.0,402.0 255.0,403.3 246.7,392.7 274.7,366.0" fill="none" stroke="#d8fff6" stroke-opacity="0.28" stroke-width="0.8" stroke-linejoin="round"/>
<polygon points="308.0,369.6 308.3,371.7 311.7,380.0 304.0,390.8 311.7,399.0 310.0,399.2 286.7,401.7 278.0,403.0 275.0,400.8 260.8,411.7 255.0,403.3 256.0,402.0 292.0,375.0" fill="none" stroke="#d8fff6" stroke-opacity="0.28" stroke-width="0.8" stroke-linejoin="round"/>
<polygon points="280.0,350.0 304.0,344.7 315.0,342.5 320.0,343.3 317.3,356.7 310.7,370.0 308.0,369.6 290.0,364.0 280.0,362.0" fill="none" stroke="#d8fff6" stroke-opacity="0.28" stroke-width="0.8" stroke-linejoin="round"/>
</svg>
</body></html>
